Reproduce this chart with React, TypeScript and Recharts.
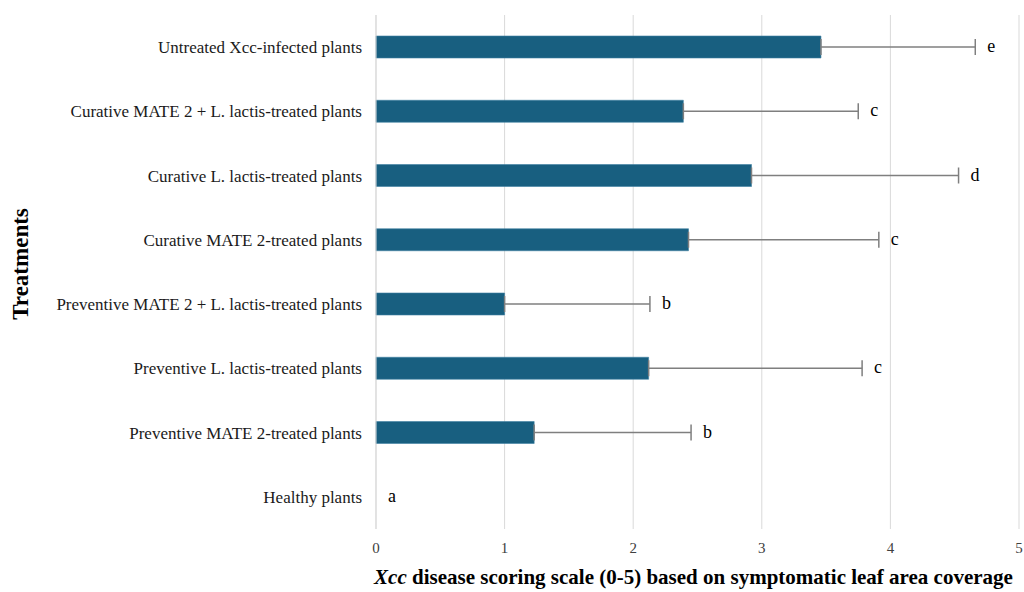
import React from 'react';
import { BarChart, Bar, XAxis, YAxis, CartesianGrid, ErrorBar, Label } from 'recharts';

const categories = [
  'Untreated Xcc-infected plants',
  'Curative MATE 2 + L. lactis-treated plants',
  'Curative L. lactis-treated plants',
  'Curative MATE 2-treated plants',
  'Preventive MATE 2 + L. lactis-treated plants',
  'Preventive L. lactis-treated plants',
  'Preventive MATE 2-treated plants',
  'Healthy plants',
];
const values = [3.46, 2.39, 2.92, 2.43, 1.0, 2.12, 1.23, 0];
const errors = [1.2, 1.36, 1.61, 1.48, 1.13, 1.66, 1.22, 0];
const letters = ['e', 'c', 'd', 'c', 'b', 'c', 'b', 'a'];
const xTicks = [0, 1, 2, 3, 4, 5];

const data = categories.map((name, i) => ({
  name,
  value: values[i],
  err: errors[i],
  errRange: [0, errors[i]],
  letter: letters[i],
}));

const FONT = 'Liberation Serif, DejaVu Serif, serif';

const YTitle = (props: any) => {
  const vb = props.viewBox || {};
  const cx = (vb.x || 0) + 20;
  const cy = (vb.y || 0) + (vb.height || 0) / 2 - 8;
  return (
    <text
      x={cx}
      y={cy}
      transform={`rotate(-90, ${cx}, ${cy})`}
      textAnchor="middle"
      dominantBaseline="central"
      fontFamily={FONT}
      fontWeight="bold"
      fontSize={23}
      fill="#000"
    >
      Treatments
    </text>
  );
};

const XTitle = (props: any) => {
  const vb = props.viewBox || {};
  const cx = (vb.x || 0) + (vb.width || 0) / 2 - 4;
  const y = (vb.y || 0) + (vb.height || 0) - 8;
  return (
    <text x={cx} y={y} textAnchor="middle" fontFamily={FONT} fontWeight="bold" fontSize={21} fill="#000">
      <tspan fontStyle="italic">Xcc</tspan>
      <tspan> disease scoring scale (0-5) based on symptomatic leaf area coverage</tspan>
    </text>
  );
};

const LetterShape = (props: any) => {
  const { x, y, width, height, payload } = props;
  const w = Number.isFinite(width) ? width : 0;
  return (
    <text
      x={x + w + 12}
      y={y + height / 2 - 1}
      dominantBaseline="central"
      textAnchor="start"
      fontFamily={FONT}
      fontSize={18}
      fill="#000"
    >
      {payload?.letter}
    </text>
  );
};

export default function App() {
  return (
    <div style={{ position: 'absolute', left: 0, top: 0, width: 1024, height: 592, background: '#fff' }}>
      <BarChart
        width={1024}
        height={592}
        data={data}
        layout="vertical"
        margin={{ top: 15, right: 5, bottom: 0, left: 0 }}
        barSize={22}
      >
        <CartesianGrid horizontal={false} vertical stroke="#d9d9d9" strokeWidth={1} />
        <XAxis
          type="number"
          domain={[0, 5]}
          ticks={xTicks}
          axisLine={false}
          tickLine={false}
          tickMargin={7}
          height={63}
          tick={{ fontFamily: FONT, fontSize: 15, fill: '#404040' }}
          interval={0}
        >
          <Label content={<XTitle />} />
        </XAxis>
        <YAxis
          type="category"
          dataKey="name"
          width={376}
          axisLine={{ stroke: '#d9d9d9' }}
          tickLine={false}
          tickMargin={8}
          interval={0}
          tick={{ fontFamily: FONT, fontSize: 17, fill: '#1a1a1a' }}
        >
          <Label content={<YTitle />} />
        </YAxis>
        <Bar dataKey="value" stackId="s" fill="#185f80" stroke="#3f82a3" strokeWidth={0.6} isAnimationActive={false}>
          <ErrorBar dataKey="errRange" direction="x" width={8} stroke="#7f7f7f" strokeWidth={1.5} />
        </Bar>
        <Bar dataKey="err" stackId="s" fill="transparent" isAnimationActive={false} shape={<LetterShape />} />
      </BarChart>
    </div>
  );
}
